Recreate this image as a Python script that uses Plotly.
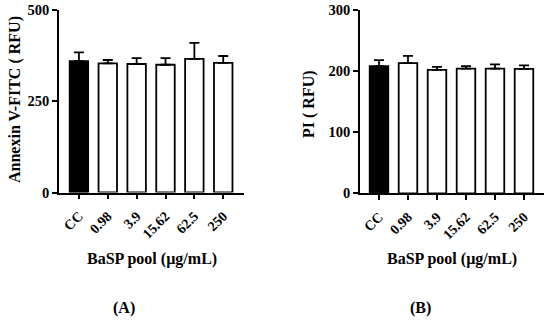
import plotly.graph_objects as go

categories = ["CC", "0.98", "3.9", "15.62", "62.5", "250"]
annexin_mean = [360, 354, 352, 350, 366, 355]
annexin_err = [24, 9, 16, 18, 44, 19]
pi_mean = [208, 213, 202, 204, 204, 203.5]
pi_err = [10, 12, 5, 4, 7, 6]
bar_colors = ["black", "white", "white", "white", "white", "white"]

FONT = "Liberation Serif"
W, H = 550, 320

def px_x(p):
    return p / W

def px_y(p):
    return (H - p) / H

fig = go.Figure()

fig.add_trace(go.Bar(
    x=list(range(len(categories))), y=annexin_mean,
    marker=dict(color=bar_colors, line=dict(color="black", width=1.8)),
    width=0.64,
    error_y=dict(type="data", symmetric=False, array=annexin_err,
                 arrayminus=[0] * len(categories), color="black",
                 thickness=1.8, width=5),
    xaxis="x", yaxis="y", showlegend=False,
))
fig.add_trace(go.Bar(
    x=list(range(len(categories))), y=pi_mean,
    marker=dict(color=bar_colors, line=dict(color="black", width=1.8)),
    width=0.64,
    error_y=dict(type="data", symmetric=False, array=pi_err,
                 arrayminus=[0] * len(categories), color="black",
                 thickness=1.8, width=5),
    xaxis="x2", yaxis="y2", showlegend=False,
))

xtickfont = dict(family=FONT, size=14, color="black", weight="bold")
ytickfont = dict(family=FONT, size=14.5, color="black", weight="bold")
common_x = dict(
    tickmode="array", tickvals=list(range(len(categories))), ticktext=categories,
    tickangle=-45, ticks="outside", ticklen=5, tickwidth=1.8, tickcolor="black",
    showline=True, linecolor="black", linewidth=1.9, showgrid=False, zeroline=False,
    tickfont=xtickfont, fixedrange=True, automargin=False, ticklabelstandoff=3,
)
common_y = dict(
    ticks="outside", ticklen=5, tickwidth=1.8, tickcolor="black",
    showline=True, linecolor="black", linewidth=1.9, showgrid=False, zeroline=False,
    tickfont=ytickfont, fixedrange=True, automargin=False,
)

fig.update_layout(
    width=W, height=H,
    margin=dict(l=0, r=0, t=0, b=0, pad=0),
    paper_bgcolor="white", plot_bgcolor="white",
    bargap=0.36,
    xaxis=dict(domain=[px_x(59), px_x(244)], range=[-0.69, 5.72], anchor="y", **common_x),
    yaxis=dict(domain=[px_y(192.5), px_y(10)], range=[0, 500], tickvals=[0, 250, 500],
               anchor="x", **common_y),
    xaxis2=dict(domain=[px_x(360), px_x(544)], range=[-0.655, 5.69], anchor="y2", **common_x),
    yaxis2=dict(domain=[px_y(193.3), px_y(10)], range=[0, 300], tickvals=[0, 100, 200, 300],
                anchor="x2", **common_y),
)

title_font = dict(family=FONT, size=16, color="black", weight="bold")
annotations = [
    dict(text="Annexin V-FITC ( RFU)", x=px_x(15), y=px_y(100), textangle=-90, font=title_font),
    dict(text="PI ( RFU)", x=px_x(309), y=px_y(104), textangle=-90, font=title_font),
    dict(text="BaSP pool (µg/mL)", x=px_x(152), y=px_y(259), font=title_font),
    dict(text="BaSP pool (µg/mL)", x=px_x(452), y=px_y(259), font=title_font),
    dict(text="(A)", x=px_x(124), y=px_y(308), font=title_font),
    dict(text="(B)", x=px_x(420), y=px_y(308), font=title_font),
]
for a in annotations:
    a.update(xref="paper", yref="paper", showarrow=False, xanchor="center", yanchor="middle")
fig.update_layout(annotations=annotations)

fig.write_html(
    "out.html",
    config={"displayModeBar": False},
    post_script="document.body.style.margin='0';document.body.style.overflow='hidden';",
)
